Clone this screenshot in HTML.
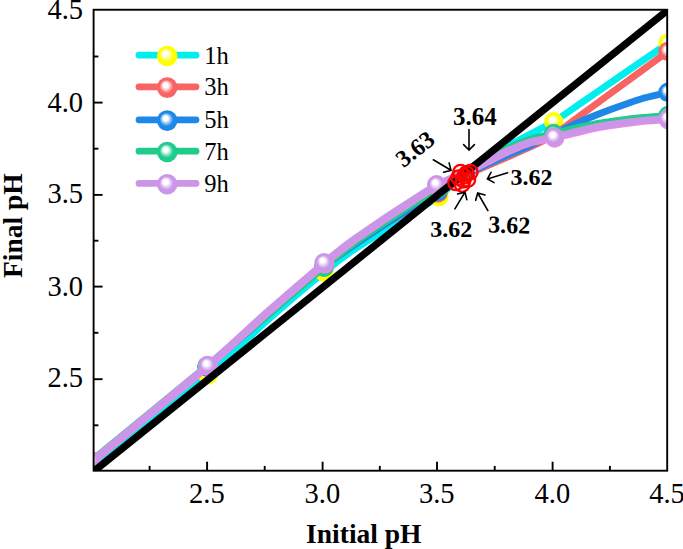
<!DOCTYPE html>
<html><head><meta charset="utf-8"><title>Final pH vs Initial pH</title>
<style>html,body{margin:0;padding:0;background:#fff;}body{width:683px;height:549px;overflow:hidden;}svg{display:block;}text{font-family:"Liberation Serif",serif;fill:#000;}.tk{font-size:28.5px;}.lg{font-size:24.5px;}.an{font-size:25px;font-weight:bold;}.a2{font-size:24px;}.ax{font-size:27.5px;font-weight:bold;}</style></head><body>
<svg width="683" height="549" viewBox="0 0 683 549">
<defs>
<radialGradient id="gs1" cx="0.5" cy="0.5" r="0.5" fx="0.40" fy="0.35"><stop offset="0" stop-color="#fff"/><stop offset="0.24" stop-color="#fff"/><stop offset="0.66" stop-color="#ffff00"/><stop offset="1" stop-color="#ffff00"/></radialGradient>
<radialGradient id="gs3" cx="0.5" cy="0.5" r="0.5" fx="0.40" fy="0.35"><stop offset="0" stop-color="#fff"/><stop offset="0.24" stop-color="#fff"/><stop offset="0.66" stop-color="#f86464"/><stop offset="1" stop-color="#f86464"/></radialGradient>
<radialGradient id="gs5" cx="0.5" cy="0.5" r="0.5" fx="0.40" fy="0.35"><stop offset="0" stop-color="#fff"/><stop offset="0.24" stop-color="#fff"/><stop offset="0.66" stop-color="#1e88e8"/><stop offset="1" stop-color="#1e88e8"/></radialGradient>
<radialGradient id="gs7" cx="0.5" cy="0.5" r="0.5" fx="0.40" fy="0.35"><stop offset="0" stop-color="#fff"/><stop offset="0.24" stop-color="#fff"/><stop offset="0.66" stop-color="#1ecc8c"/><stop offset="1" stop-color="#1ecc8c"/></radialGradient>
<radialGradient id="gs9" cx="0.5" cy="0.5" r="0.5" fx="0.40" fy="0.35"><stop offset="0" stop-color="#fff"/><stop offset="0.24" stop-color="#fff"/><stop offset="0.66" stop-color="#cc96e8"/><stop offset="1" stop-color="#cc96e8"/></radialGradient>
<clipPath id="plot"><rect x="93.60" y="9.75" width="573.60" height="460.95"/></clipPath>
</defs>
<rect width="683" height="549" fill="#fff"/>
<g clip-path="url(#plot)">
<path d="M91.0 467.0 C99.6 460.3 195.2 385.7 208.0 375.0 C220.8 364.3 257.5 329.1 266.0 321.5 C274.5 313.9 317.7 277.2 324.0 272.0 C330.3 266.8 347.8 253.9 352.0 251.0 C356.2 248.1 377.2 234.7 381.5 232.0 C385.8 229.3 405.8 216.6 410.0 214.0 C414.2 211.4 434.6 199.9 439.0 196.6 C443.4 193.3 464.9 172.2 470.0 168.5 C475.1 164.8 503.8 148.5 509.0 145.6 C514.2 142.7 537.7 130.3 541.0 128.6 C544.3 126.9 550.8 123.7 553.8 121.8 C556.8 119.9 577.9 105.2 582.0 102.4 C586.1 99.6 605.8 86.0 610.0 83.1 C614.2 80.2 634.7 66.1 639.0 63.2 C643.3 60.3 665.9 44.7 668.0 43.2" fill="none" stroke="#00eeee" stroke-width="6.9" stroke-linejoin="round" stroke-linecap="round"/>
<circle cx="91.0" cy="467.0" r="9.7" fill="url(#gs1)"/>
<circle cx="208.0" cy="375.0" r="9.7" fill="url(#gs1)"/>
<circle cx="324.0" cy="272.0" r="9.7" fill="url(#gs1)"/>
<circle cx="439.0" cy="196.6" r="9.7" fill="url(#gs1)"/>
<circle cx="553.8" cy="121.8" r="9.7" fill="url(#gs1)"/>
<circle cx="668.0" cy="43.2" r="9.7" fill="url(#gs1)"/>
<path d="M91.0 463.0 C99.5 456.0 189.9 381.4 207.0 367.0 C224.1 352.6 311.2 276.8 324.0 266.5 C336.8 256.2 372.6 232.0 381.0 226.6 C389.4 221.2 431.6 196.9 438.0 193.0 C444.4 189.1 464.9 175.8 468.0 174.0 C471.1 172.2 476.5 170.3 479.6 169.0 C482.7 167.7 506.3 157.6 510.0 156.0 C513.7 154.4 526.2 149.0 529.4 147.5 C532.6 146.0 549.7 137.4 553.6 135.0 C557.5 132.6 577.9 117.2 582.0 114.2 C586.1 111.2 605.8 96.9 610.0 93.8 C614.2 90.7 634.7 75.7 639.0 72.6 C643.3 69.5 665.9 53.0 668.0 51.4" fill="none" stroke="#f86464" stroke-width="6.9" stroke-linejoin="round" stroke-linecap="round"/>
<circle cx="91.0" cy="463.0" r="9.7" fill="url(#gs3)"/>
<circle cx="207.0" cy="367.0" r="9.7" fill="url(#gs3)"/>
<circle cx="324.0" cy="266.5" r="9.7" fill="url(#gs3)"/>
<circle cx="438.0" cy="193.0" r="9.7" fill="url(#gs3)"/>
<circle cx="553.6" cy="135.0" r="9.7" fill="url(#gs3)"/>
<circle cx="668.0" cy="51.4" r="9.7" fill="url(#gs3)"/>
<path d="M91.0 462.8 C99.5 455.8 189.9 381.2 207.0 366.8 C224.1 352.4 311.2 277.1 324.0 266.8 C336.8 256.5 372.6 232.5 381.0 227.0 C389.4 221.5 431.6 195.5 438.0 191.5 C444.4 187.5 464.9 174.7 468.0 173.0 C471.1 171.3 476.5 169.2 479.6 167.8 C482.7 166.4 506.3 155.6 510.0 154.0 C513.7 152.4 526.2 147.5 529.4 146.0 C532.6 144.5 549.8 135.8 553.6 134.0 C557.4 132.2 577.5 122.8 581.0 121.3 C584.5 119.8 598.5 114.2 601.5 113.0 C604.5 111.8 619.0 106.6 622.0 105.5 C625.0 104.4 639.1 99.5 642.5 98.5 C645.9 97.5 666.1 92.8 668.0 92.3" fill="none" stroke="#1e88e8" stroke-width="6.9" stroke-linejoin="round" stroke-linecap="round"/>
<circle cx="91.0" cy="462.8" r="9.7" fill="url(#gs5)"/>
<circle cx="207.0" cy="366.8" r="9.7" fill="url(#gs5)"/>
<circle cx="324.0" cy="266.8" r="9.7" fill="url(#gs5)"/>
<circle cx="438.0" cy="191.5" r="9.7" fill="url(#gs5)"/>
<circle cx="553.6" cy="134.0" r="9.7" fill="url(#gs5)"/>
<circle cx="668.0" cy="92.3" r="9.7" fill="url(#gs5)"/>
<path d="M91.0 461.0 C99.5 454.0 189.9 380.2 207.0 366.0 C224.1 351.8 313.4 276.1 324.0 267.2 C334.6 258.3 347.8 248.1 352.0 245.0 C356.2 241.9 376.8 227.8 381.0 225.0 C385.2 222.2 404.8 209.1 409.0 206.5 C413.2 203.9 433.5 191.8 438.0 189.0 C442.5 186.2 464.8 172.0 470.0 169.0 C475.2 166.0 504.5 150.0 509.0 147.8 C513.5 145.6 527.7 140.0 531.0 139.0 C534.3 138.0 550.4 134.3 553.6 133.5 C556.8 132.7 571.7 128.7 575.0 128.0 C578.3 127.3 593.6 124.0 598.0 123.3 C602.4 122.6 629.9 118.8 635.0 118.2 C640.1 117.6 665.6 115.7 668.0 115.5" fill="none" stroke="#1ecc8c" stroke-width="6.9" stroke-linejoin="round" stroke-linecap="round"/>
<circle cx="91.0" cy="461.0" r="9.7" fill="url(#gs7)"/>
<circle cx="207.0" cy="366.0" r="9.7" fill="url(#gs7)"/>
<circle cx="324.0" cy="267.2" r="9.7" fill="url(#gs7)"/>
<circle cx="438.0" cy="189.0" r="9.7" fill="url(#gs7)"/>
<circle cx="553.6" cy="133.5" r="9.7" fill="url(#gs7)"/>
<circle cx="668.0" cy="115.5" r="9.7" fill="url(#gs7)"/>
<path d="M91.0 461.5 C99.6 454.5 194.9 376.4 207.7 365.5 C220.5 354.6 257.5 320.3 266.0 312.8 C274.5 305.3 317.7 268.1 324.0 262.8 C330.3 257.5 347.9 243.6 352.0 240.6 C356.1 237.6 375.9 224.1 380.0 221.3 C384.1 218.5 403.8 205.7 408.0 203.0 C412.2 200.3 431.9 187.3 436.6 184.8 C441.3 182.3 466.7 171.1 472.0 168.5 C477.3 165.9 504.7 152.0 509.0 150.0 C513.3 148.0 527.7 142.5 531.0 141.5 C534.3 140.5 549.1 138.1 554.0 137.0 C558.9 135.9 592.0 127.7 598.0 126.5 C604.0 125.3 630.4 121.8 635.5 121.2 C640.6 120.6 665.6 118.9 668.0 118.8" fill="none" stroke="#f08ae6" stroke-width="6.9" stroke-linejoin="round" stroke-linecap="round" transform="translate(0.7 1.0)"/>
<path d="M91.0 461.5 C99.6 454.5 194.9 376.4 207.7 365.5 C220.5 354.6 257.5 320.3 266.0 312.8 C274.5 305.3 317.7 268.1 324.0 262.8 C330.3 257.5 347.9 243.6 352.0 240.6 C356.1 237.6 375.9 224.1 380.0 221.3 C384.1 218.5 403.8 205.7 408.0 203.0 C412.2 200.3 431.9 187.3 436.6 184.8 C441.3 182.3 466.7 171.1 472.0 168.5 C477.3 165.9 504.7 152.0 509.0 150.0 C513.3 148.0 527.7 142.5 531.0 141.5 C534.3 140.5 549.1 138.1 554.0 137.0 C558.9 135.9 592.0 127.7 598.0 126.5 C604.0 125.3 630.4 121.8 635.5 121.2 C640.6 120.6 665.6 118.9 668.0 118.8" fill="none" stroke="#cc96e8" stroke-width="6.9" stroke-linejoin="round" stroke-linecap="round"/>
<circle cx="91.7" cy="462.5" r="9.7" fill="#f08ae6"/>
<circle cx="91.0" cy="461.5" r="9.7" fill="url(#gs9)"/>
<circle cx="208.4" cy="366.5" r="9.7" fill="#f08ae6"/>
<circle cx="207.7" cy="365.5" r="9.7" fill="url(#gs9)"/>
<circle cx="324.7" cy="263.8" r="9.7" fill="#f08ae6"/>
<circle cx="324.0" cy="262.8" r="9.7" fill="url(#gs9)"/>
<circle cx="437.3" cy="185.8" r="9.7" fill="#f08ae6"/>
<circle cx="436.6" cy="184.8" r="9.7" fill="url(#gs9)"/>
<circle cx="554.7" cy="138.0" r="9.7" fill="#f08ae6"/>
<circle cx="554.0" cy="137.0" r="9.7" fill="url(#gs9)"/>
<circle cx="668.7" cy="119.8" r="9.7" fill="#f08ae6"/>
<circle cx="668.0" cy="118.8" r="9.7" fill="url(#gs9)"/>
<line x1="83.6" y1="479.5" x2="677.2" y2="2.5" stroke="#000" stroke-width="7.3"/>
</g>
<circle cx="460.5" cy="172.2" r="7.3" fill="none" stroke="#ff0000" stroke-width="2.3"/>
<circle cx="470.3" cy="172.2" r="7.3" fill="none" stroke="#ff0000" stroke-width="2.3"/>
<circle cx="455.6" cy="182.9" r="7.3" fill="none" stroke="#ff0000" stroke-width="2.3"/>
<circle cx="462.1" cy="184.5" r="7.3" fill="none" stroke="#ff0000" stroke-width="2.3"/>
<circle cx="467.9" cy="179.6" r="7.3" fill="none" stroke="#ff0000" stroke-width="2.3"/>
<circle cx="464.6" cy="176.3" r="7.3" fill="none" stroke="#ff0000" stroke-width="2.3"/>
<circle cx="458.6" cy="177.6" r="7.3" fill="none" stroke="#ff0000" stroke-width="2.3"/>
<circle cx="463.2" cy="180.2" r="7.3" fill="none" stroke="#ff0000" stroke-width="2.3"/>
<circle cx="466.4" cy="173.6" r="7.3" fill="none" stroke="#ff0000" stroke-width="2.3"/>
<rect x="93.60" y="9.75" width="573.60" height="460.95" fill="none" stroke="#000" stroke-width="1.9"/>
<line x1="207.1" y1="470.7" x2="207.1" y2="461.7" stroke="#000" stroke-width="1.9"/>
<text class="tk" x="206.9" y="502.8" text-anchor="middle">2.5</text>
<line x1="322.6" y1="470.7" x2="322.6" y2="461.7" stroke="#000" stroke-width="1.9"/>
<text class="tk" x="322.4" y="502.8" text-anchor="middle">3.0</text>
<line x1="437.0" y1="470.7" x2="437.0" y2="461.7" stroke="#000" stroke-width="1.9"/>
<text class="tk" x="436.8" y="502.8" text-anchor="middle">3.5</text>
<line x1="552.6" y1="470.7" x2="552.6" y2="461.7" stroke="#000" stroke-width="1.9"/>
<text class="tk" x="552.4" y="502.8" text-anchor="middle">4.0</text>
<text class="tk" x="667.0" y="502.8" text-anchor="middle">4.5</text>
<line x1="149.6" y1="470.7" x2="149.6" y2="465.9" stroke="#000" stroke-width="1.9"/>
<line x1="264.7" y1="470.7" x2="264.7" y2="465.9" stroke="#000" stroke-width="1.9"/>
<line x1="379.8" y1="470.7" x2="379.8" y2="465.9" stroke="#000" stroke-width="1.9"/>
<line x1="494.7" y1="470.7" x2="494.7" y2="465.9" stroke="#000" stroke-width="1.9"/>
<line x1="609.9" y1="470.7" x2="609.9" y2="465.9" stroke="#000" stroke-width="1.9"/>
<text class="tk" x="83.1" y="18.6" text-anchor="end">4.5</text>
<line x1="93.6" y1="102.6" x2="102.6" y2="102.6" stroke="#000" stroke-width="1.9"/>
<text class="tk" x="83.1" y="112.0" text-anchor="end">4.0</text>
<line x1="93.6" y1="194.9" x2="102.6" y2="194.9" stroke="#000" stroke-width="1.9"/>
<text class="tk" x="83.1" y="203.0" text-anchor="end">3.5</text>
<line x1="93.6" y1="286.6" x2="102.6" y2="286.6" stroke="#000" stroke-width="1.9"/>
<text class="tk" x="83.1" y="295.7" text-anchor="end">3.0</text>
<line x1="93.6" y1="379.2" x2="102.6" y2="379.2" stroke="#000" stroke-width="1.9"/>
<text class="tk" x="83.1" y="386.8" text-anchor="end">2.5</text>
<line x1="93.6" y1="56.5" x2="98.4" y2="56.5" stroke="#000" stroke-width="1.9"/>
<line x1="93.6" y1="148.7" x2="98.4" y2="148.7" stroke="#000" stroke-width="1.9"/>
<line x1="93.6" y1="240.7" x2="98.4" y2="240.7" stroke="#000" stroke-width="1.9"/>
<line x1="93.6" y1="332.8" x2="98.4" y2="332.8" stroke="#000" stroke-width="1.9"/>
<line x1="93.6" y1="425.3" x2="98.4" y2="425.3" stroke="#000" stroke-width="1.9"/>
<text class="ax" x="363.8" y="542.7" text-anchor="middle">Initial pH</text>
<text class="ax" transform="translate(22.4 225.6) rotate(-90)" text-anchor="middle">Final pH</text>
<line x1="139" y1="55.2" x2="196" y2="55.2" stroke="#00eeee" stroke-width="6.8" stroke-linecap="round"/>
<circle cx="167.2" cy="56.0" r="10.3" fill="url(#gs1)"/>
<text class="lg" x="204.3" y="63.8">1h</text>
<line x1="139" y1="86.8" x2="196" y2="86.8" stroke="#f86464" stroke-width="6.8" stroke-linecap="round"/>
<circle cx="167.2" cy="87.6" r="10.3" fill="url(#gs3)"/>
<text class="lg" x="204.3" y="95.4">3h</text>
<line x1="139" y1="119.8" x2="196" y2="119.8" stroke="#1e88e8" stroke-width="6.8" stroke-linecap="round"/>
<circle cx="167.2" cy="120.6" r="10.3" fill="url(#gs5)"/>
<text class="lg" x="204.3" y="128.4">5h</text>
<line x1="139" y1="151.2" x2="196" y2="151.2" stroke="#1ecc8c" stroke-width="6.8" stroke-linecap="round"/>
<circle cx="167.2" cy="152.0" r="10.3" fill="url(#gs7)"/>
<text class="lg" x="204.3" y="159.8">7h</text>
<line x1="139" y1="183.4" x2="196" y2="183.4" stroke="#cc96e8" stroke-width="6.8" stroke-linecap="round"/>
<circle cx="167.2" cy="184.2" r="10.3" fill="url(#gs9)"/>
<text class="lg" x="204.3" y="192.0">9h</text>
<text class="an" x="474.8" y="125.3" text-anchor="middle">3.64</text>
<path d="M469.0 129.5 L469.0 150.0 M474.4 144.6 L469.0 150.0 L463.6 144.6" fill="none" stroke="#000" stroke-width="1.6" stroke-linecap="round" stroke-linejoin="miter"/>
<text class="an a2" transform="translate(420 155.3) rotate(-38)" text-anchor="middle">3.63</text>
<path d="M433.3 159.8 L451.0 170.3 M449.1 162.9 L451.0 170.3 L443.6 172.2" fill="none" stroke="#000" stroke-width="1.6" stroke-linecap="round" stroke-linejoin="miter"/>
<text class="an a2" x="510.6" y="185.1">3.62</text>
<path d="M507.6 172.8 L487.4 179.0 M494.1 182.6 L487.4 179.0 L491.0 172.3" fill="none" stroke="#000" stroke-width="1.6" stroke-linecap="round" stroke-linejoin="miter"/>
<text class="an a2" x="451.2" y="236.7" text-anchor="middle">3.62</text>
<path d="M454.9 208.9 L465.0 192.2 M457.6 194.0 L465.0 192.2 L466.8 199.6" fill="none" stroke="#000" stroke-width="1.6" stroke-linecap="round" stroke-linejoin="miter"/>
<text class="an a2" transform="translate(509 233) rotate(2)" text-anchor="middle">3.62</text>
<path d="M487.9 210.6 L477.7 193.0 M475.7 200.3 L477.7 193.0 L485.0 195.0" fill="none" stroke="#000" stroke-width="1.6" stroke-linecap="round" stroke-linejoin="miter"/>
</svg></body></html>
